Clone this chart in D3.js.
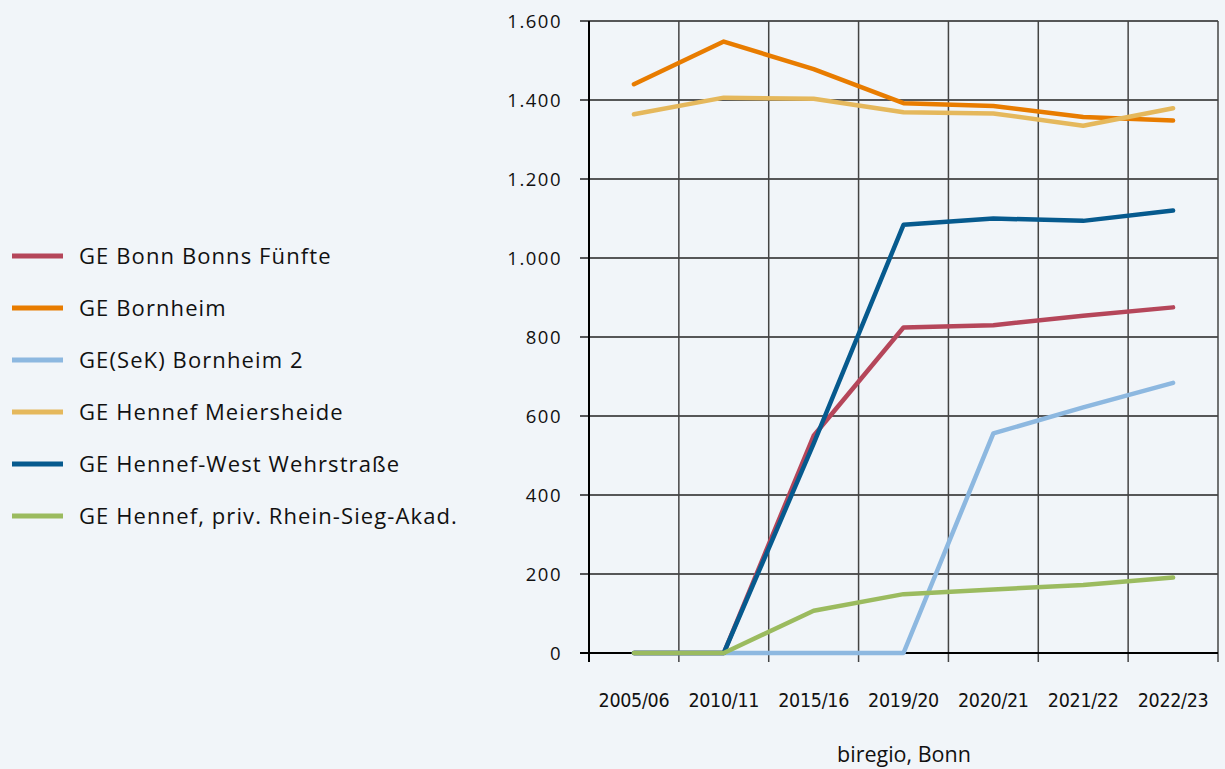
<!DOCTYPE html>
<html><head><meta charset="utf-8">
<script src="https://cdn.jsdelivr.net/npm/d3@7/dist/d3.min.js"></script>
<style>
html,body{margin:0;padding:0;background:#f1f5f9;}
svg{display:block;}
</style></head>
<body><svg id="c" width="1225" height="769"></svg>
<script>
const categories = ["2005/06","2010/11","2015/16","2019/20","2020/21","2021/22","2022/23"];
const seriesNames = ["GE Bonn Bonns Fünfte","GE Bornheim","GE(SeK) Bornheim 2","GE Hennef Meiersheide","GE Hennef-West Wehrstraße","GE Hennef, priv. Rhein-Sieg-Akad."];
const bonnFuenfte   = [0, 0, 550, 824, 830, 854, 875];
const bornheim      = [1440, 1548, 1478, 1392, 1385, 1357, 1348];
const bornheim2     = [0, 0, 0, 0, 556, 622, 684];
const meiersheide   = [1364, 1406, 1403, 1369, 1366, 1335, 1379];
const wehrstrasse   = [0, 0, 530, 1084, 1100, 1094, 1120];
const rheinSieg     = [0, 0, 107, 149, 161, 172, 191];
const yTicks = [0,200,400,600,800,1000,1200,1400,1600];
const yTickLabels = ["0","200","400","600","800","1.000","1.200","1.400","1.600"];
const sourceLabel = "biregio, Bonn";

const colors = ["#b5465a","#e87c00","#8db8e0","#e5b85c","#065a8e","#9bbb5f"];
const allValues = [bonnFuenfte, bornheim, bornheim2, meiersheide, wehrstrasse, rheinSieg];

const svg = d3.select("#c");
const L = 589, R = 1218, T = 21, B = 653;
const x = d3.scaleBand().domain(categories).range([L, R]);
const y = d3.scaleLinear().domain([0,1600]).range([B, T]);

// horizontal grid
svg.append("g").selectAll("line").data(yTicks).join("line")
  .attr("x1", L - 9).attr("x2", R)
  .attr("y1", d => y(d)).attr("y2", d => y(d))
  .attr("stroke", "#222").attr("stroke-width", 1.5);

// vertical grid at band boundaries
const bounds = categories.map(c => x(c)).concat([R]);
svg.append("g").selectAll("line").data(bounds).join("line")
  .attr("x1", d => d).attr("x2", d => d)
  .attr("y1", T).attr("y2", B + 9)
  .attr("stroke", "#444").attr("stroke-width", 1.5);

// axes lines
svg.append("line").attr("x1", L).attr("x2", L).attr("y1", T).attr("y2", B + 9)
  .attr("stroke", "#000").attr("stroke-width", 2);
svg.append("line").attr("x1", L - 9).attr("x2", R).attr("y1", B).attr("y2", B)
  .attr("stroke", "#000").attr("stroke-width", 2);

// y labels
svg.append("g").selectAll("text").data(yTicks).join("text")
  .attr("x", 562).attr("y", d => y(d)).attr("dy", "0.36em")
  .attr("text-anchor", "end")
  .attr("font-family", "'Open Sans', sans-serif").attr("font-size", 18.5)
  .attr("letter-spacing", 1.5)
  .attr("fill", "#111")
  .text((d,i) => yTickLabels[i]);

// x labels
svg.append("g").selectAll("text").data(categories).join("text")
  .attr("x", d => x(d) + x.bandwidth()/2).attr("y", 707)
  .attr("text-anchor", "middle")
  .attr("font-family", "'DejaVu Sans Condensed', 'Liberation Sans Narrow', sans-serif")
  .attr("font-size", 19.5).attr("fill", "#111")
  .attr("letter-spacing", -0.3)
  .text(d => d);

svg.append("text").attr("x", 904).attr("y", 762)
  .attr("text-anchor", "middle")
  .attr("font-family", "'Open Sans', sans-serif").attr("font-size", 21.5)
  .attr("fill", "#111").text(sourceLabel);

// lines
const line = d3.line().x((d,i) => x(categories[i]) + x.bandwidth()/2).y(d => y(d));
allValues.forEach((vals, k) => {
  svg.append("path").attr("d", line(vals))
    .attr("fill", "none").attr("stroke", colors[k]).attr("stroke-width", 4.5)
    .attr("stroke-linecap", "round").attr("stroke-linejoin", "round");
});

// legend
const lg = svg.append("g");
seriesNames.forEach((n, k) => {
  const yy = 256 + k * 52;
  lg.append("line").attr("x1", 12).attr("x2", 63).attr("y1", yy).attr("y2", yy)
    .attr("stroke", colors[k]).attr("stroke-width", 5);
  lg.append("text").attr("x", 79).attr("y", yy + 8)
    .attr("font-family", "'Open Sans', sans-serif").attr("font-size", 22)
    .attr("letter-spacing", 1.1)
    .attr("fill", "#111").text(n);
});
</script>
</body></html>
